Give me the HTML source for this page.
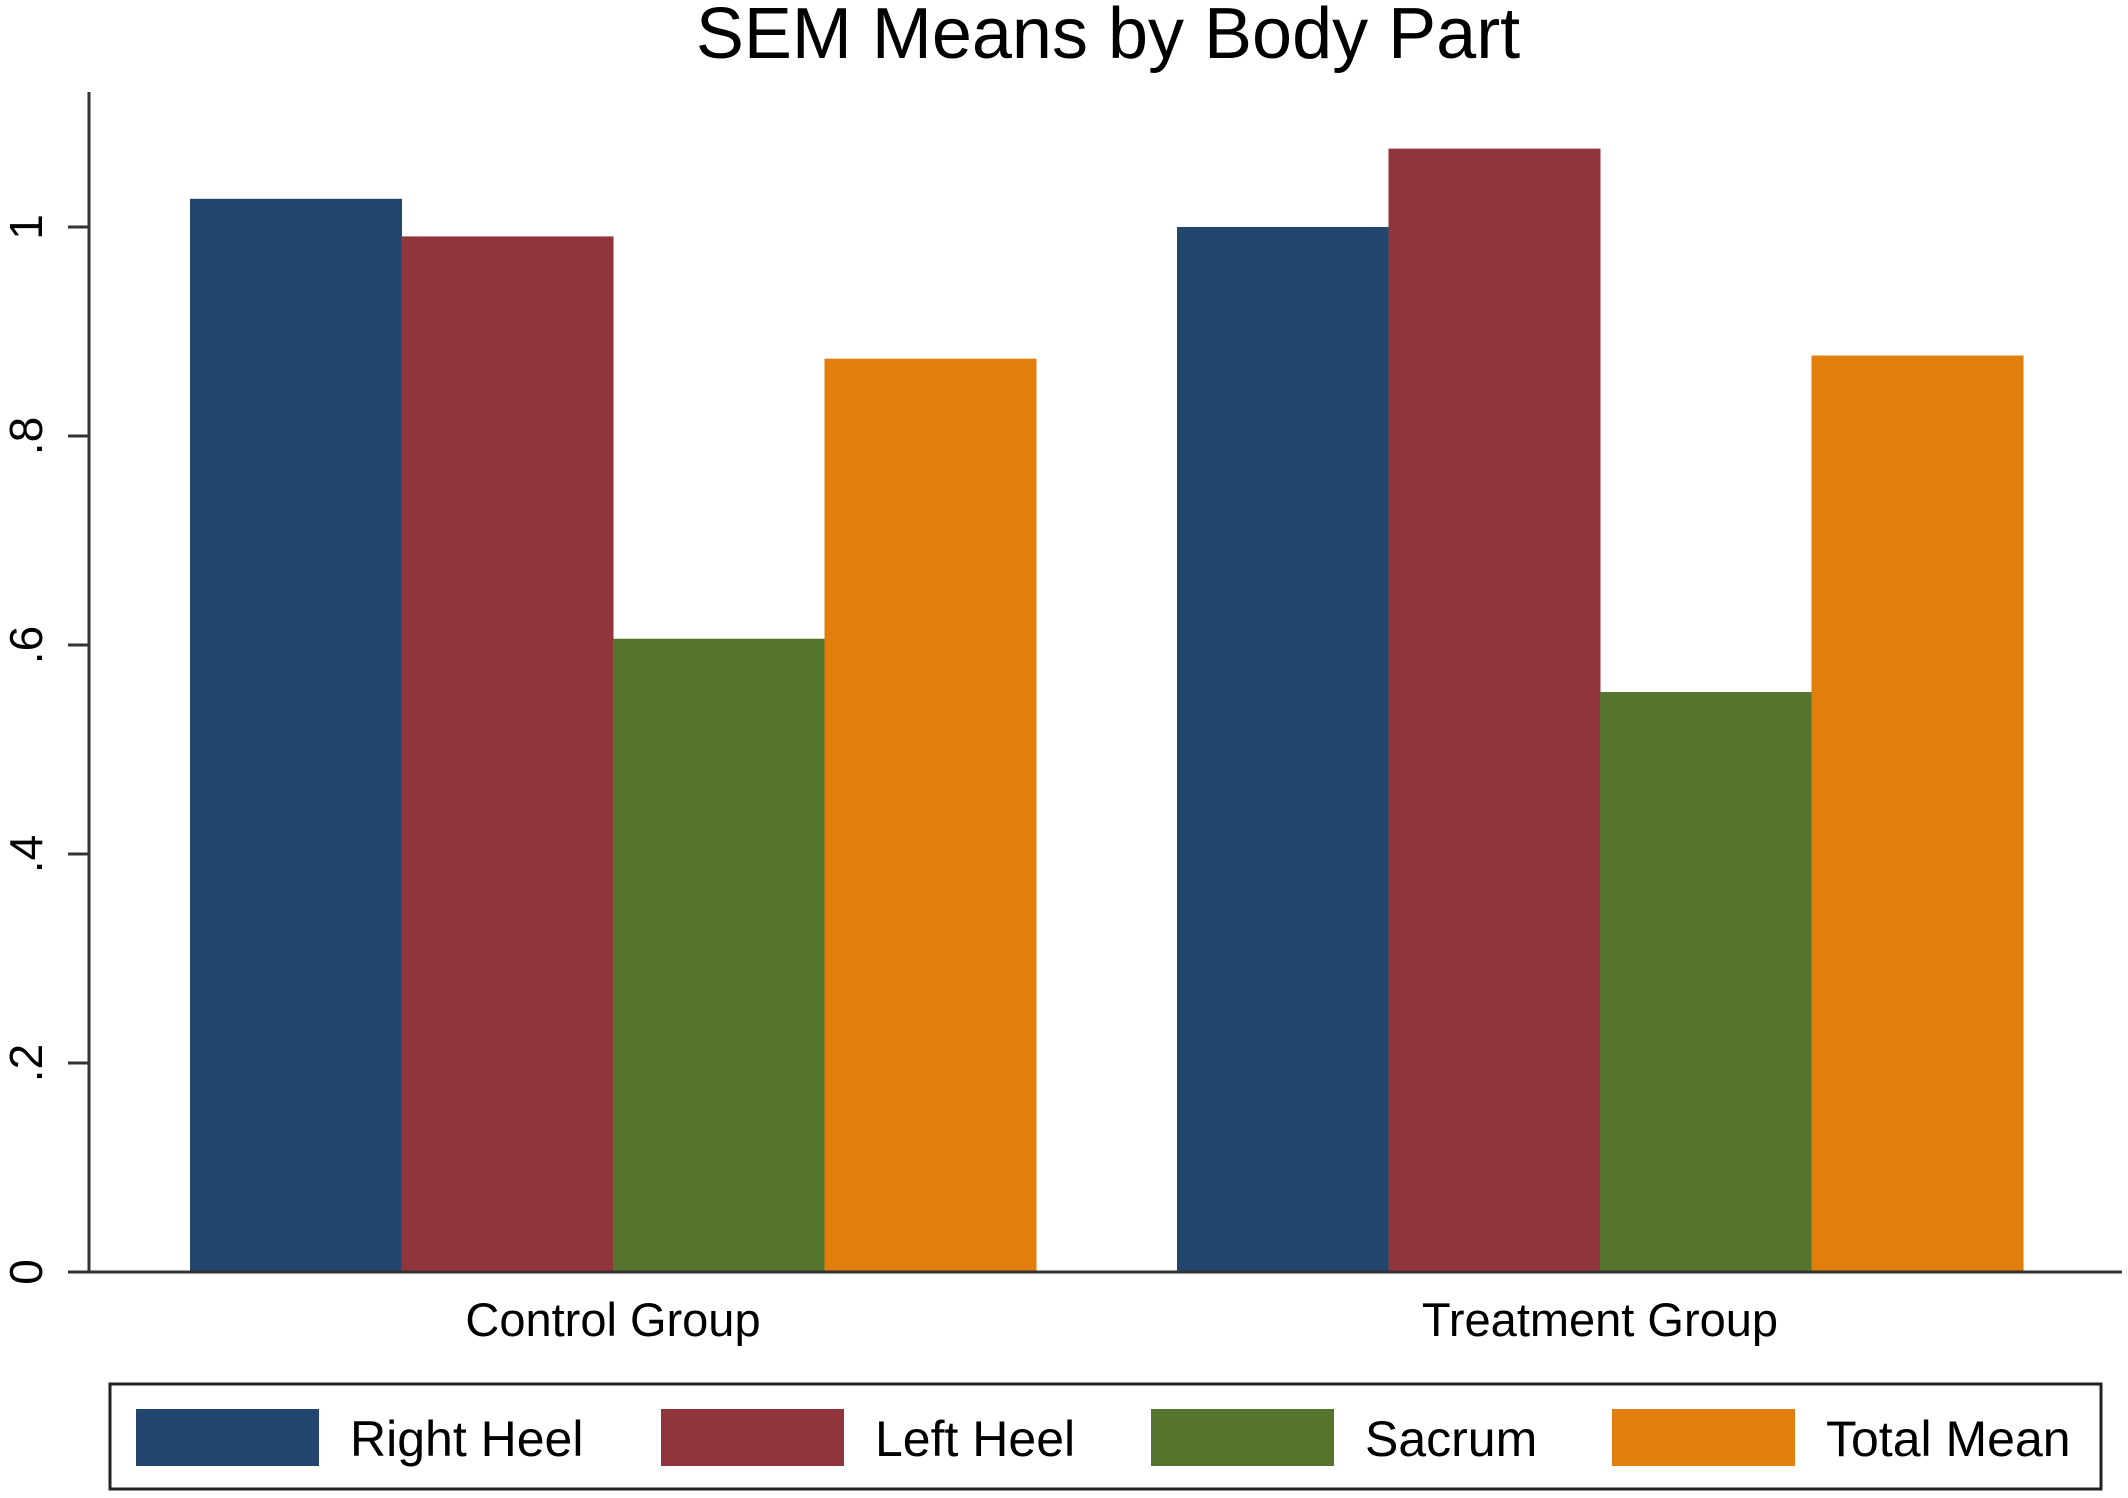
<!DOCTYPE html>
<html><head><meta charset="utf-8"><style>
html,body{margin:0;padding:0;background:#fff;}
svg{display:block;font-family:"Liberation Sans",sans-serif;}
</style></head><body>
<svg width="2128" height="1498" viewBox="0 0 2128 1498">
<text x="1108" y="58" font-size="72" text-anchor="middle" fill="#000">SEM Means by Body Part</text>
<g id="bars"></g>
<g id="axes"></g>
<g id="legend">
<rect x="110" y="1384" width="1991" height="105" fill="#fff" stroke="#222" stroke-width="3"/>
</g>
</svg>
<script>
const categories = ["Control Group", "Treatment Group"];
const seriesNames = ["Right Heel", "Left Heel", "Sacrum", "Total Mean"];
const rightHeel = [1.027, 1.0];
const leftHeel = [0.991, 1.075];
const sacrum = [0.606, 0.555];
const totalMean = [0.874, 0.877];
const yTicks = [0, 0.2, 0.4, 0.6, 0.8, 1];
const yTickLabels = ["0", ".2", ".4", ".6", ".8", "1"];

const NS = "http://www.w3.org/2000/svg";
const colors = ["#23466e", "#90353b", "#55752f", "#e27e0b"];
const series = [rightHeel, leftHeel, sacrum, totalMean];
const y0 = 1272, unitPx = 1045;
function yScale(v){ return y0 - v * unitPx; }
const groupStart = [190, 1177];
const barW = 211.5;
function xBar(ci, si){ return groupStart[ci] + si * barW; }
function mk(tag, attrs, parent){
  const e = document.createElementNS(NS, tag);
  for (const k in attrs) e.setAttribute(k, attrs[k]);
  parent.appendChild(e); return e;
}
const bars = document.getElementById("bars");
categories.forEach((c, ci) => {
  series.forEach((s, si) => {
    const r = mk("rect", {x: xBar(ci, si), y: yScale(s[ci]), width: barW + 0.5, height: y0 - yScale(s[ci]), fill: colors[si]}, bars);
    
    
  });
});
const axes = document.getElementById("axes");
const yl = mk("line", {x1: 89, y1: 92, x2: 89, y2: y0, stroke: "#333", "stroke-width": 3}, axes);


const xl = mk("line", {x1: 68, y1: y0, x2: 2122, y2: y0, stroke: "#333", "stroke-width": 3}, axes);


yTicks.forEach((t, i) => {
  const tk = mk("line", {x1: 68, y1: yScale(t), x2: 89, y2: yScale(t), stroke: "#333", "stroke-width": 3}, axes);
  
  
  const tx = mk("text", {x: 0, y: 0, "font-size": 46, "text-anchor": "middle", transform: "translate(42," + yScale(t) + ") rotate(-90)"}, axes);
  tx.textContent = yTickLabels[i];
  
  
});
categories.forEach((c, ci) => {
  const tx = mk("text", {x: groupStart[ci] + 2 * barW, y: 1336, "font-size": 47, "text-anchor": "middle"}, axes);
  tx.textContent = c;
  
  
});
const legend = document.getElementById("legend");
const swX = [136, 661, 1151, 1612];
seriesNames.forEach((n, i) => {
  const sw = mk("rect", {x: swX[i], y: 1409, width: 183, height: 57, fill: colors[i]}, legend);
  
  
  const tx = mk("text", {x: swX[i] + 214, y: 1456, "font-size": 50}, legend);
  tx.textContent = n;
  
  
});
</script>
</body></html>
